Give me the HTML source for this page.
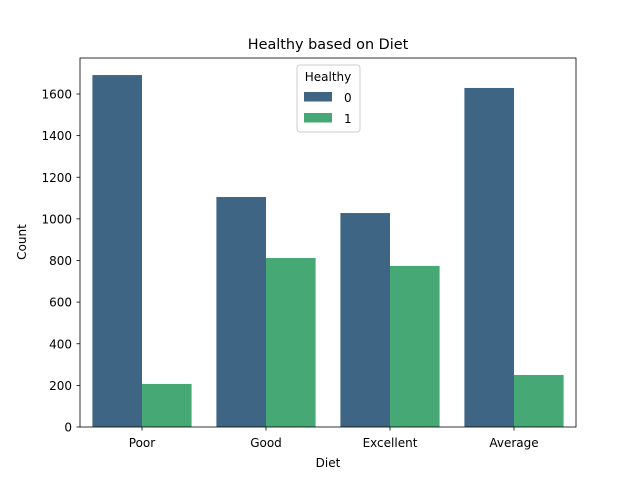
<!DOCTYPE html>
<html><head><meta charset="utf-8"><style>body{margin:0;background:#fff}svg{font-family:"DejaVu Sans","Liberation Sans",sans-serif}</style></head>
<body>
<svg id="c" width="640" height="480" xmlns="http://www.w3.org/2000/svg">
<rect width="640" height="480" fill="#fff"/>
<text x="328" y="49" font-size="14.4" text-anchor="middle">Healthy based on Diet</text>
<g id="bars"></g>
<g id="axes"></g>
<rect x="80" y="58" width="496" height="369" fill="none" stroke="#000" stroke-width="0.8"/>
<text x="328" y="467" font-size="12" text-anchor="middle">Diet</text>
<text transform="translate(26,242) rotate(-90)" font-size="12" text-anchor="middle">Count</text>
<g>
<rect x="297" y="65" width="63" height="67" rx="3" fill="#fff" fill-opacity="0.8" stroke="#ccc" stroke-width="1"/>
<text x="328" y="81" font-size="12" text-anchor="middle">Healthy</text>
<g><rect x="304" y="92" width="28" height="9.5" fill="#3e6584"/><text x="344" y="102" font-size="12">0</text></g>
<g><rect x="304" y="113" width="28" height="9.5" fill="#46a874"/><text x="344" y="123" font-size="12">1</text></g>
</g>
</svg>
<script>
const categories=["Poor","Good","Excellent","Average"];
const series0=[1691,1105,1028,1629];
const series1=[207,812,774,250];
const yTicks=[0,200,400,600,800,1000,1200,1400,1600];
const NS="http://www.w3.org/2000/svg";
const x=i=>80+(i+0.5)*124;
const y=v=>427-v*0.208125;
const bars=document.getElementById('bars'),axes=document.getElementById('axes');
function mk(t,a,p){const e=document.createElementNS(NS,t);for(const k in a)e.setAttribute(k,a[k]);p.appendChild(e);return e;}
[[series0,"#3e6584",-1],[series1,"#46a874",0]].forEach(([s,col,off],si)=>{
 s.forEach((v,i)=>{const r=mk('rect',{x:x(i)+off*49.6,y:y(v),width:49.6,height:y(0)-y(v),fill:col},bars);
 
 });
});
categories.forEach((c,i)=>{mk('line',{x1:x(i),x2:x(i),y1:427,y2:430.5,stroke:'#000','stroke-width':0.8},axes);
 const t=mk('text',{x:x(i),y:447,'font-size':12,'text-anchor':'middle'},axes);t.textContent=c;
 
 });
yTicks.forEach(v=>{mk('line',{x1:76.5,x2:80,y1:y(v),y2:y(v),stroke:'#000','stroke-width':0.8},axes);
 const t=mk('text',{x:72,y:y(v)+4.5,'font-size':12,'text-anchor':'end'},axes);t.textContent=v;
 
 });
</script>
</body></html>
